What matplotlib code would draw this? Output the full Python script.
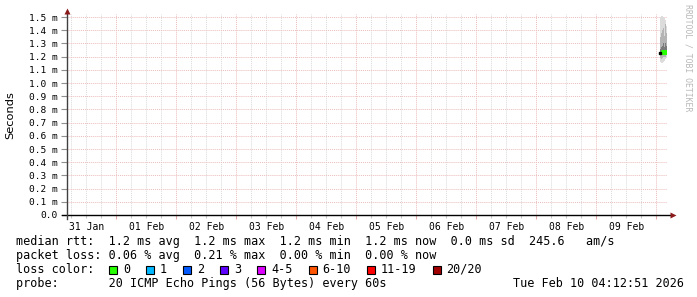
import pandas as pd
import numpy as np
import matplotlib
matplotlib.use('Agg')
import matplotlib.pyplot as plt
import matplotlib.dates as mdates
from matplotlib.ticker import FuncFormatter, MultipleLocator, NullFormatter
from matplotlib.patches import Rectangle

# -----------------------------------------------
# -             DATA                            -
# -----------------------------------------------
t_start = pd.Timestamp('2026-01-31 04:12:51')
t_end = pd.Timestamp('2026-02-10 04:12:51')

# one column per rrd step (24 min) at the very end of the range
times = pd.to_datetime(['2026-02-10 01:24', '2026-02-10 01:48', '2026-02-10 02:12',
                        '2026-02-10 02:36', '2026-02-10 03:00', '2026-02-10 03:24',
                        '2026-02-10 03:48'])
# rtt spread per column in ms
rtt_min = [1.16, 1.15, 1.15, 1.16, 1.17, 1.18, 1.19]
rtt_p10 = [1.19, 1.18, 1.19, 1.20, 1.20, 1.20, 1.21]
rtt_p25 = [1.21, 1.21, 1.22, 1.22, 1.22, 1.22, 1.22]
rtt_med = [1.23, 1.23, 1.24, 1.24, 1.23, 1.24, 1.23]
rtt_p75 = [1.26, 1.27, 1.28, 1.30, 1.27, 1.30, 1.28]
rtt_p90 = [1.35, 1.38, 1.40, 1.42, 1.36, 1.45, 1.38]
rtt_max = [1.50, 1.51, 1.51, 1.50, 1.49, 1.48, 1.43]

loss_labels = ['0', '1', '2', '3', '4-5', '6-10', '11-19', '20/20']
loss_colors = ['#26ff00', '#00b8ff', '#0059ff', '#5e00ff', '#dd00ff', '#ff5500', '#ff0000', '#a00000']

line_rtt = 'median rtt:  1.2 ms avg  1.2 ms max  1.2 ms min  1.2 ms now  0.0 ms sd  245.6   am/s'
line_loss = 'packet loss: 0.06 % avg  0.21 % max  0.00 % min  0.00 % now'
line_probe = 'probe:       20 ICMP Echo Pings (56 Bytes) every 60s'
stamp = 'Tue Feb 10 04:12:51 2026'

# -----------------------------------------------
# -         PLOT DATA                           -
# -----------------------------------------------
W, H = 697, 297
fig = plt.figure(figsize=(W / 100, H / 100), dpi=100)
fig.patch.set_facecolor('white')

def fx(x):
    return x / W

def fy(y):
    return 1 - y / H

ax_l, ax_r, ax_b, ax_t = 67, 667, 215, 14.4
ax = fig.add_axes([fx(ax_l), fy(ax_b), fx(ax_r - ax_l), (ax_b - ax_t) / H])
ax.set_xlim(t_start, t_end)
ax.set_ylim(0, 1.52)

step = pd.Timedelta(minutes=24)
edges = list(times) + [times[-1] + step]

def ext(v):
    return list(v) + [v[-1]]

shades = [(rtt_min, rtt_max, '#dcdcdc'), (rtt_p10, rtt_p90, '#b4b4b4'), (rtt_p25, rtt_p75, '#7a7a7a')]
for lo, hi, c in shades:
    ax.fill_between(edges, ext(lo), ext(hi), step='post', color=c, lw=0, zorder=3)
ax.plot(edges, ext(rtt_med), drawstyle='steps-post', color=loss_colors[0], lw=2.2, zorder=4)
ax.plot([times[0]], [rtt_med[0]], marker='s', ms=1.8, color='black', zorder=5)

# grid
major_grid = '#ecbcbc'
minor_grid = '#dadada'
ax.yaxis.set_major_locator(MultipleLocator(0.1))
ax.yaxis.set_major_formatter(FuncFormatter(lambda v, p: '0.0' if abs(v) < 1e-9 else f'{v:.1f} m'))
ax.xaxis.set_major_locator(mdates.DayLocator())
ax.xaxis.set_major_formatter(NullFormatter())
ax.xaxis.set_minor_locator(mdates.HourLocator(byhour=[0, 6, 12, 18]))
ax.xaxis.set_minor_formatter(FuncFormatter(
    lambda v, p: mdates.num2date(v).strftime('%d %b') if mdates.num2date(v).hour == 12 else ''))
ax.grid(True, which='major', color=major_grid, linestyle=(0, (1, 1)), lw=0.7)
ax.grid(True, which='minor', axis='x', color=minor_grid, linestyle=(0, (1, 1)), lw=0.7)
ax.set_axisbelow(True)

mono = 'DejaVu Sans Mono'
ax.tick_params(axis='y', which='major', length=4, width=0.8, color='#909090', pad=3,
               labelsize=6.8, labelcolor='black')
ax.tick_params(axis='x', which='major', length=3, width=0.8, color='#e6a8a8', pad=3)
ax.tick_params(axis='x', which='minor', length=2, width=0.8, color='#c8c8c8', pad=3,
               labelsize=7.0, labelcolor='black')
for lab in ax.get_yticklabels() + ax.get_xticklabels(minor=True):
    lab.set_family(mono)

for s in ax.spines.values():
    s.set_visible(False)

# axis lines with arrows
ax.plot([-5 / 600, 1 + 3 / 600], [0, 0], color='black', lw=1.0, transform=ax.transAxes, clip_on=False, zorder=6)
ax.plot([0, 0], [-4 / 200.6, 1 + 3 / 200.6], color='#404040', lw=1.0, transform=ax.transAxes, clip_on=False, zorder=6)
ax.plot([1 + 6 / 600], [0], marker='>', ms=4.5, color='#8b1a1a', mec='none', transform=ax.transAxes, clip_on=False, zorder=7)
ax.plot([0], [1 + 3 / 200.6], marker='^', ms=4.5, color='#8b1a1a', mec='none', transform=ax.transAxes, clip_on=False, zorder=7)

# titles and legend
fig.text(fx(10), fy(115), 'Seconds', rotation=90, ha='center', va='center', fontsize=8.2, family='DejaVu Sans')
fig.text(fx(688), fy(4), 'RRDTOOL / TOBI OETIKER', rotation=270, ha='center', va='top',
         fontsize=5.9, family=mono, color='#b8b8b8')

fs = 8.5
fig.text(fx(16), fy(241.5), line_rtt, ha='left', va='center', fontsize=fs, family=mono)
fig.text(fx(16), fy(255.5), line_loss, ha='left', va='center', fontsize=fs, family=mono)
fig.text(fx(16), fy(269.5), 'loss color:', ha='left', va='center', fontsize=fs, family=mono)
bx = 109
for lab, c in zip(loss_labels, loss_colors):
    fig.patches.append(Rectangle((fx(bx), fy(273.5)), 8 / W, 8 / H, transform=fig.transFigure,
                                 facecolor=c, edgecolor='black', lw=0.8))
    fig.text(fx(bx + 14), fy(269.5), lab, ha='left', va='center', fontsize=fs, family=mono)
    bx += 30 + 7.1 * len(lab)
fig.text(fx(16), fy(283.5), line_probe, ha='left', va='center', fontsize=fs, family=mono)
fig.text(fx(513), fy(283.5), stamp, ha='left', va='center', fontsize=fs, family=mono)

plt.savefig('out.png', dpi=100, facecolor='white')
